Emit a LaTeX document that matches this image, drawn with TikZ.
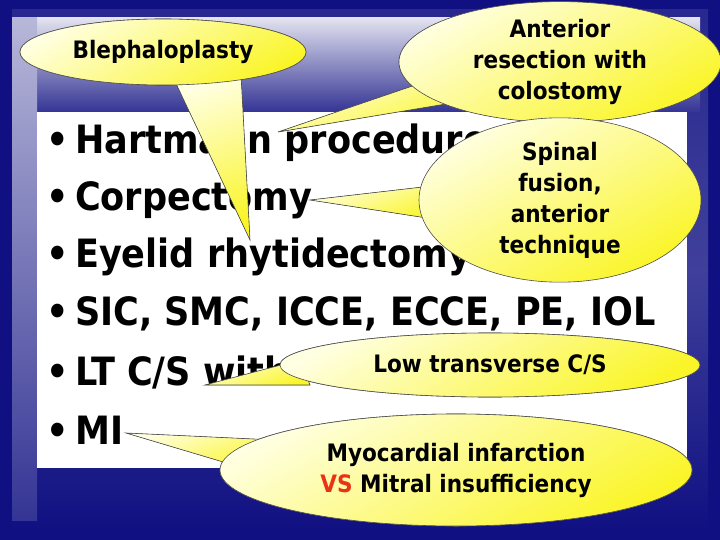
\documentclass[tikz,border=0pt]{standalone}
\usepackage{fontspec}
\setmainfont{DejaVu Sans Condensed}[BoldFont={DejaVu Sans Condensed Bold}]
\usetikzlibrary{shapes.geometric,shadings,calc}
\definecolor{navy}{RGB}{16,16,130}
\definecolor{pale}{RGB}{255,255,225}
\definecolor{ylw}{RGB}{250,245,40}
\definecolor{vsred}{RGB}{235,50,20}
\tikzset{
  bul/.style={anchor=west,font=\fontsize{39}{42}\selectfont\bfseries,inner sep=0pt},
  bubble/.style={ellipse,draw=black!70,line width=0.6pt,top color=pale,bottom color=ylw,shading angle=30,align=center,font=\fontsize{24}{31}\selectfont\bfseries,inner sep=0pt},
  tail/.style={draw=black!70,line width=0.6pt,top color=pale,bottom color=ylw,shading angle=20}
}
\begin{document}
\begin{tikzpicture}[x=1pt,y=-1pt]
\useasboundingbox (0,0) rectangle (720,540);
\fill[navy] (0,0) rectangle (720,540);
\shade[top color=navy!90,bottom color=navy,middle color=navy!80] (12,10) rectangle (708,530);
\shade[left color=white!88!navy,right color=navy!85,shading angle=0] (20,18) rectangle (700,112);
\shade[top color=white!70!navy,bottom color=navy!85] (12,18) rectangle (37,520);
\fill[white] (37,112) rectangle (687,468);
\node[bul] (l1) at (46,143) {•\,Hartmann procedure};
\node[bul] (l2) at (46,200) {•\,Corpectomy};
\node[bul] (l3) at (46,257) {•\,Eyelid rhytidectomy};
\node[bul] (l4) at (46,314) {•\,SIC, SMC, ICCE, ECCE, PE, IOL};
\node[bul] (l5) at (46,372) {•\,LT C/S with};
\node[bul] (l6) at (46,430) {•\,MI};
\coordinate (t1) at (250,240);
\coordinate (t2) at (278,132);
\coordinate (t3) at (310,200);
\coordinate (t4) at (205,385);
\coordinate (t5) at (126,433);
% Blephaloplasty
\node[bubble,minimum width=286pt,minimum height=66pt] (b1) at (163,52) {};
\filldraw[tail] (172,75) -- (t1) -- (241,75) -- cycle;
\node[bubble,minimum width=286pt,minimum height=66pt] at (b1) {Blephaloplasty};
% Anterior
\node[bubble,minimum width=322pt,minimum height=120pt] (b2) at (560,62) {};
\filldraw[tail] (430,80) -- (t2) -- (470,100) -- cycle;
\node[bubble,minimum width=322pt,minimum height=120pt] at (b2) {Anterior\\resection with\\colostomy};
% Spinal
\node[bubble,minimum width=282pt,minimum height=152pt] (b3) at (560,200) {};
\filldraw[tail] (440,185) -- (t3) -- (440,220) -- cycle;
\node[bubble,minimum width=282pt,minimum height=152pt] at (b3) {Spinal\\fusion,\\anterior\\technique};
% Low transverse
\node[bubble,minimum width=420pt,minimum height=64pt] (b4) at (490,365) {};
\filldraw[tail] (300,360) -- (t4) -- (310,385) -- cycle;
\node[bubble,minimum width=420pt,minimum height=64pt] at (b4) {Low transverse C/S};
% MI
\node[bubble,minimum width=472pt,minimum height=112pt] (b5) at (456,470) {};
\filldraw[tail] (275,440) -- (t5) -- (250,470) -- cycle;
\node[bubble,minimum width=472pt,minimum height=112pt] at (b5) {Myocardial infarction\\{\color{vsred}VS} Mitral insufficiency};
\end{tikzpicture}
\end{document}
